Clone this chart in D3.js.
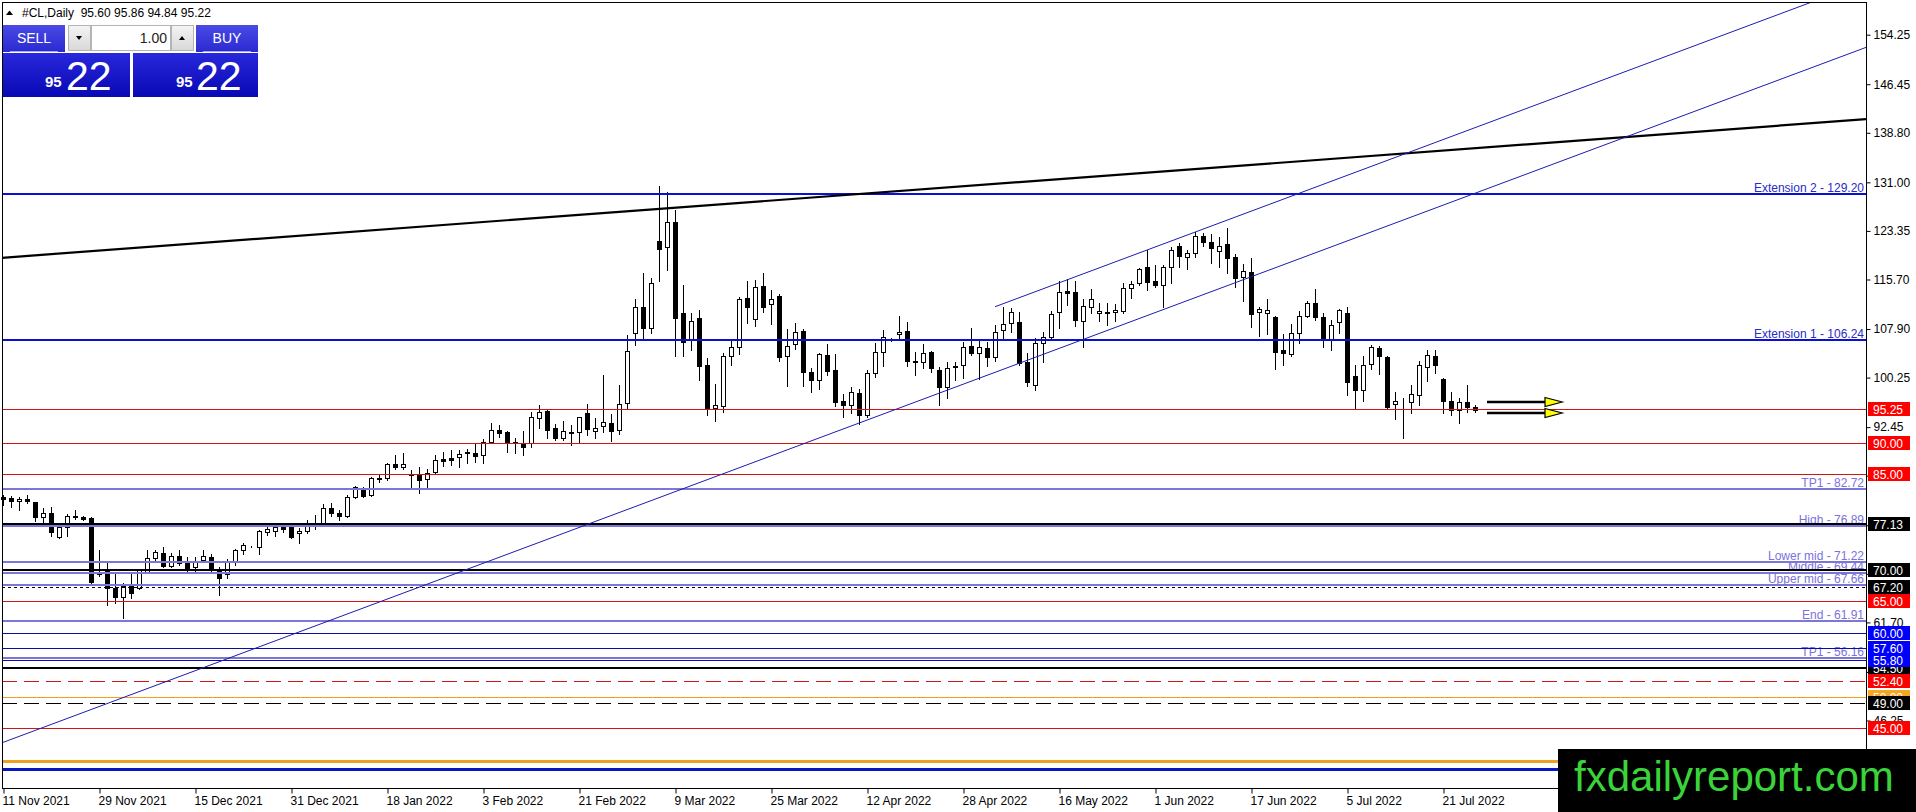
<!DOCTYPE html>
<html>
<head>
<meta charset="utf-8">
<script src="https://cdn.jsdelivr.net/npm/d3@7"></script>
<style>
  body { margin: 0; background: #fff; overflow: hidden; }
  svg text { font-family: "Liberation Sans", Arial, sans-serif; }
</style>
</head>
<body>
<div id="chart"></div>
<script>
// daily bars, 11 Nov 2021 .. 27 Jul 2022 (one per weekday)
const opens = [81.40,81.24,80.82,81.08,80.61,78.35,78.88,75.20,76.67,78.51,78.35,78.09,69.60,69.95,67.17,65.75,67.59,67.07,69.69,71.90,
  72.68,70.58,72.16,71.27,70.37,71.53,72.05,69.95,69.32,71.42,73.10,73.60,73.52,75.99,76.15,76.78,76.78,75.83,76.15,77.04,
  77.30,79.66,78.88,78.46,81.40,82.81,81.76,84.35,84.39,86.65,86.12,85.08,84.92,84.23,85.44,87.43,87.54,87.70,88.33,88.43,
  88.06,90.16,92.00,91.74,90.00,89.90,89.90,93.94,95.04,92.26,90.80,91.60,91.74,94.62,91.84,92.68,93.10,92.00,96.20,107.20,
  111.40,108.00,121.80,120.80,124.70,110.50,106.20,109.60,102.30,95.40,95.80,103.70,105.10,112.80,109.40,114.70,111.80,113.10,103.65,105.50,
  107.60,101.20,99.90,103.75,101.40,96.60,96.00,97.80,94.30,100.90,104.30,106.20,107.10,107.60,102.70,102.66,104.23,101.45,98.80,101.87,
  102.24,105.30,104.20,104.97,103.55,107.75,108.80,109.06,102.76,99.10,105.65,106.70,110.64,113.90,113.70,109.17,111.30,110.50,110.45,110.64,
  110.74,114.30,115.10,117.60,115.50,114.80,117.60,120.97,119.20,119.82,122.55,121.55,120.24,121.30,119.19,116.04,116.93,110.63,110.37,109.74,
  104.60,103.96,107.32,109.95,111.94,109.74,106.17,109.05,110.47,100.50,98.30,102.39,104.86,103.54,96.09,96.50,96.46,97.45,101.97,103.70,
  99.97,96.51,95.14,96.46,95.60];
const highs = [81.76,81.60,81.40,81.76,80.71,79.66,79.92,77.04,78.77,79.40,78.46,78.25,73.10,71.27,69.43,67.85,69.32,70.06,73.10,73.10,
  73.52,72.58,73.10,72.05,72.05,73.10,72.47,70.48,71.63,73.21,74.15,73.80,76.25,76.88,77.30,77.30,76.88,76.51,77.83,78.61,
  80.29,80.56,79.40,81.76,83.18,83.08,84.65,84.90,86.75,88.06,88.33,85.70,86.12,85.81,88.06,88.59,88.85,88.85,88.96,89.90,
  90.53,93.16,92.79,91.90,90.69,91.80,94.90,95.90,95.30,92.90,93.40,92.80,94.10,96.04,93.94,100.66,94.50,99.10,106.96,112.60,
  116.80,116.00,130.50,129.40,126.70,114.90,110.40,110.90,103.30,99.20,104.20,106.20,113.00,115.40,115.60,116.80,114.10,113.40,107.90,108.90,
  107.85,101.70,104.10,105.60,104.00,97.70,98.80,98.40,101.50,105.65,107.70,106.50,109.90,109.06,104.30,105.50,104.50,101.97,102.76,102.76,
  105.90,108.00,106.00,105.90,108.60,111.40,111.20,110.60,104.20,106.50,107.50,110.70,115.40,115.80,115.50,112.70,114.20,111.95,111.95,111.80,
  115.10,115.50,117.50,120.30,117.98,117.98,120.76,121.40,120.34,123.20,122.97,122.86,122.44,123.75,119.71,118.14,119.03,111.30,112.57,110.00,
  107.11,108.69,110.79,112.36,114.15,110.47,109.32,111.10,111.42,102.23,103.65,105.38,105.22,103.65,98.03,96.98,99.08,102.91,104.60,104.60,
  100.20,98.03,96.98,99.08,95.86];
const lows = [80.19,79.82,79.40,80.45,77.72,77.41,75.30,75.05,75.30,77.93,77.83,67.59,69.06,64.44,64.70,62.34,65.49,66.91,69.43,71.53,
  70.48,70.37,70.74,69.53,69.69,71.27,69.69,66.02,68.64,70.74,72.47,73.50,72.47,75.47,75.31,76.00,75.00,74.26,75.73,76.36,
  77.04,78.46,77.83,78.35,81.24,81.40,81.61,83.86,84.13,85.81,85.81,82.97,82.03,83.08,85.18,86.33,86.49,86.23,86.75,87.02,
  86.75,90.16,90.95,88.59,88.43,88.10,89.30,92.26,90.69,90.50,90.40,89.60,90.16,91.20,90.69,91.74,90.20,91.30,95.50,105.40,
  106.40,107.30,115.50,117.20,103.60,103.60,104.60,99.80,94.30,93.40,94.90,102.20,104.00,108.90,108.40,110.60,108.70,102.80,99.00,104.70,
  99.00,98.00,98.50,100.60,95.80,94.00,94.70,92.90,94.00,100.40,102.10,106.00,106.20,102.10,100.66,101.80,101.20,96.00,97.10,99.90,
  100.14,103.80,100.10,102.10,102.90,106.50,107.40,102.30,98.99,98.30,102.76,106.40,108.10,111.70,108.40,105.10,110.40,109.20,108.50,109.20,
  110.50,112.80,114.80,114.04,114.46,111.30,115.20,117.60,117.30,119.30,120.97,118.35,117.60,116.67,114.57,112.36,108.27,106.80,107.10,101.55,
  102.23,103.65,105.64,109.74,109.32,105.12,104.60,107.32,97.50,95.25,96.61,101.55,100.81,95.25,93.67,90.68,94.62,95.93,99.76,100.92,
  94.62,94.36,93.05,94.88,94.84];
const closes = [81.10,80.87,81.08,80.87,78.25,78.88,76.00,76.67,78.46,78.25,78.04,68.01,69.27,67.07,65.75,67.43,66.28,69.95,71.79,72.84,
  70.58,72.16,71.00,70.22,71.27,72.16,69.95,68.64,71.27,73.10,73.89,73.65,76.15,76.36,76.67,76.46,75.20,76.15,76.88,77.30,
  79.66,78.98,78.46,81.40,82.97,81.61,84.39,84.45,86.65,86.23,86.65,84.92,84.13,85.18,87.28,87.17,87.28,88.22,88.59,87.96,
  90.16,92.00,91.58,90.00,90.05,89.30,94.00,94.78,92.00,90.69,91.84,91.65,94.00,92.15,92.26,93.20,91.80,96.10,104.50,111.40,
  108.10,115.10,120.45,124.80,109.70,105.90,109.20,102.10,95.30,95.90,103.60,105.10,112.70,111.40,114.50,111.30,112.70,103.50,105.30,107.50,
  101.20,99.90,103.90,101.30,96.40,96.00,98.00,94.40,101.00,104.30,106.60,106.10,107.50,102.80,102.80,104.08,101.70,98.80,101.70,102.13,
  105.10,104.20,105.10,103.55,107.50,108.64,110.64,102.50,99.50,105.65,106.70,110.20,113.80,113.50,109.30,111.60,112.70,110.75,110.55,110.90,
  114.30,115.00,117.30,115.35,114.80,117.60,120.40,119.45,119.82,122.55,121.55,120.60,121.02,119.03,115.88,117.10,110.26,111.05,110.90,104.33,
  104.07,107.22,109.95,111.94,109.74,106.17,108.53,110.89,99.61,98.30,102.23,105.01,103.65,95.67,96.51,96.60,97.66,102.23,103.81,102.23,
  96.61,95.14,96.46,95.56,95.22];

// time axis labels (bar number of each label)
const dateTickBars = [0, 12, 24, 36, 48, 60, 72, 84, 96, 108, 120, 132, 144, 156, 168, 180];
const dateTickLabels = ["11 Nov 2021", "29 Nov 2021", "15 Dec 2021", "31 Dec 2021", "18 Jan 2022", "3 Feb 2022",
  "21 Feb 2022", "9 Mar 2022", "25 Mar 2022", "12 Apr 2022", "28 Apr 2022", "16 May 2022", "1 Jun 2022",
  "17 Jun 2022", "5 Jul 2022", "21 Jul 2022"];

// price axis
const priceTicks = [154.25, 146.45, 138.80, 131.00, 123.35, 115.70, 107.90, 100.25, 92.45, 84.80, 77.00, 69.35, 61.70, 53.90, 46.25];
const priceMin = 35.62, priceMax = 159.40;

// horizontal levels
const extensionPrices = [129.20, 106.24];
const extensionNames = ["Extension 2", "Extension 1"];
const fiboPrices = [82.72, 76.89, 71.22, 69.44, 67.66, 61.91, 56.16];
const fiboNames = ["TP1", "High", "Lower mid", "Middle", "Upper mid", "End", "TP1"];
const redLevels = [95.25, 90.00, 85.00, 65.00, 45.00];
const blackLevels = [77.13, 70.00, 54.50];
const blueLevels = [60.00, 57.60, 55.80];
const dottedLevels = [67.20];
const redDashedLevels = [52.40];
const blackDashedLevels = [49.00];
const orangeLevels = [50.00];
const bottomOrangeLevels = [39.86];
const bottomBlueLevels = [38.60];

// trend lines: [bar, price] anchors
const resistanceLine = [[0, 119.13], [184, 136.37]];
const channelLow = [[0, 42.80], [150, 113.30]];
const channelHigh = [[124, 111.41], [184, 139.61]];

// arrows after the last bar
const arrowPrices = [96.45, 94.72];
const arrowBars = [185.5, 192.75, 194.9];

const symbolTitle = "#CL,Daily";
const lotSize = "1.00";
const bidBig = "95", bidSmall = "22";

let svg, xScale, yScale;
const width = 1916, height = 812;
const plot = { left: 2, top: 2, right: 1866, bottom: 788 };

function defineSVG() {
    svg = d3.select("#chart").append("svg")
        .attr("width", width)
        .attr("height", height)
        .style("display", "block");

    svg.append("rect")
        .attr("width", width)
        .attr("height", height)
        .attr("fill", "#fff");

    svg.append("clipPath")
        .attr("id", "plotclip")
        .append("rect")
        .attr("x", plot.left)
        .attr("y", plot.top)
        .attr("width", plot.right - plot.left)
        .attr("height", plot.bottom - plot.top);
}

function setScales() {
    xScale = d3.scaleLinear()
        .domain([0, closes.length - 1])
        .range([3, 3 + 8 * (closes.length - 1)]);
    yScale = d3.scaleLinear()
        .domain([priceMin, priceMax])
        .range([plot.bottom, plot.top]);
}

function snap(v, w) {
    return w % 2 === 1 ? Math.round(v) + 0.5 : Math.round(v);
}

function drawCandles() {
    const g = svg.append("g").attr("id", "g_candles").attr("shape-rendering", "crispEdges");
    const bars = g.selectAll("g").data(d3.range(closes.length)).join("g");

    bars.append("line")
        .attr("x1", i => Math.round(xScale(i)) + 0.5)
        .attr("x2", i => Math.round(xScale(i)) + 0.5)
        .attr("y1", i => Math.round(yScale(highs[i])))
        .attr("y2", i => Math.round(yScale(lows[i])) + 1)
        .attr("stroke", "#000");

    bars.append("rect")
        .attr("x", i => Math.round(xScale(i)) - 1.5)
        .attr("y", i => Math.round(yScale(Math.max(opens[i], closes[i]))) + 0.5)
        .attr("width", 4)
        .attr("height", i => Math.max(0, Math.round(yScale(Math.min(opens[i], closes[i]))) - Math.round(yScale(Math.max(opens[i], closes[i])))))
        .attr("fill", i => closes[i] >= opens[i] ? "#fff" : "#000")
        .attr("stroke", "#000");
}

function drawLevel(g, price, color, w, dash) {
    const y = snap(yScale(price), w);
    g.append("line")
        .attr("x1", plot.left)
        .attr("x2", plot.right)
        .attr("y1", y)
        .attr("y2", y)
        .attr("stroke", color)
        .attr("stroke-width", w)
        .attr("stroke-dasharray", dash || null);
}

function drawLevels() {
    const g = svg.append("g").attr("id", "g_levels").attr("shape-rendering", "crispEdges");

    // level captions, right aligned, sitting on their line
    extensionPrices.forEach((p, i) => {
        g.append("text")
            .attr("x", plot.right - 2)
            .attr("y", Math.round(yScale(p)) - 2)
            .attr("text-anchor", "end")
            .attr("font-size", 12)
            .attr("fill", "#2a2ac8")
            .text(extensionNames[i] + " - " + p.toFixed(2));
    });
    fiboPrices.forEach((p, i) => {
        g.append("text")
            .attr("x", plot.right - 2)
            .attr("y", Math.round(yScale(p)) - 2)
            .attr("text-anchor", "end")
            .attr("font-size", 12)
            .attr("fill", "#7a72dc")
            .text(fiboNames[i] + " - " + p.toFixed(2));
    });

    bottomOrangeLevels.forEach(p => drawLevel(g, p, "#f0a020", 3));
    bottomBlueLevels.forEach(p => drawLevel(g, p, "#0a14c0", 3));
    redLevels.forEach(p => drawLevel(g, p, "#d41414", 1));
    blueLevels.forEach(p => drawLevel(g, p, "#0a0aa8", 1));
    orangeLevels.forEach(p => drawLevel(g, p, "#f0a020", 1));
    redDashedLevels.forEach(p => drawLevel(g, p, "#d41414", 1, "15,7"));
    blackDashedLevels.forEach(p => drawLevel(g, p, "#000", 1, "15,7"));
    dottedLevels.forEach(p => drawLevel(g, p, "#000", 1, "3,3"));
    fiboPrices.forEach(p => drawLevel(g, p, "#7c76d8", 2));
    extensionPrices.forEach(p => drawLevel(g, p, "#0a10d4", 2));
    blackLevels.forEach(p => drawLevel(g, p, "#000", 2));
}

function lineAt(anchors, bar) {
    const [b0, p0] = anchors[0], [b1, p1] = anchors[1];
    return p0 + (p1 - p0) * (bar - b0) / (b1 - b0);
}

function drawTrendLines() {
    const g = svg.append("g").attr("id", "g_trends").attr("clip-path", "url(#plotclip)");
    const leftBar = xScale.invert(plot.left), rightBar = xScale.invert(plot.right);

    const lines = [
        { anchors: resistanceLine, from: leftBar, color: "#000", w: 2.2 },
        { anchors: channelLow, from: leftBar, color: "#1c1cb0", w: 1 },
        { anchors: channelHigh, from: channelHigh[0][0], color: "#1c1cb0", w: 1 }
    ];

    g.selectAll("line").data(lines).join("line")
        .attr("x1", d => xScale(d.from))
        .attr("y1", d => yScale(lineAt(d.anchors, d.from)))
        .attr("x2", xScale(rightBar))
        .attr("y2", d => yScale(lineAt(d.anchors, rightBar)))
        .attr("stroke", d => d.color)
        .attr("stroke-width", d => d.w);
}

function drawArrows() {
    const g = svg.append("g").attr("id", "g_arrows");
    arrowPrices.forEach(p => {
        const y = Math.round(yScale(p));
        const x0 = xScale(arrowBars[0]), x1 = xScale(arrowBars[1]), x2 = xScale(arrowBars[2]);
        g.append("line")
            .attr("x1", x0).attr("x2", x1)
            .attr("y1", y).attr("y2", y)
            .attr("stroke", "#000")
            .attr("stroke-width", 2.5);
        g.append("path")
            .attr("d", `M${x1},${y - 4.5}L${x2},${y}L${x1},${y + 4.5}Z`)
            .attr("fill", "#ffff00")
            .attr("stroke", "#000")
            .attr("stroke-width", 1.2);
    });
}

// all prices that get a coloured box on the price scale
function markPrices() {
    return [].concat(orangeLevels, blackLevels, redLevels, redDashedLevels, dottedLevels, blueLevels, blackDashedLevels);
}

function drawAxes() {
    // frame
    svg.append("rect")
        .attr("x", plot.left + 0.5)
        .attr("y", plot.top + 0.5)
        .attr("width", plot.right - plot.left)
        .attr("height", plot.bottom - plot.top)
        .attr("fill", "none")
        .attr("stroke", "#000")
        .attr("shape-rendering", "crispEdges");

    const yAxis = svg.append("g")
        .attr("class", "yaxis")
        .attr("transform", `translate(${plot.right + 0.5},0)`)
        .call(d3.axisRight(yScale).tickValues(priceTicks).tickSize(4).tickPadding(3).tickFormat(d3.format(".2f")));
    yAxis.select(".domain").remove();
    yAxis.selectAll("text").attr("font-size", 12).attr("fill", "#000").style("font-family", "Liberation Sans, Arial, sans-serif");
    yAxis.selectAll("line").attr("stroke", "#000");

    // tick labels that sit right under a price box are covered by it
    const covered = markPrices().map(p => yScale(p));
    yAxis.selectAll(".tick text")
        .filter(d => covered.some(y => Math.abs(y - yScale(d)) < 6))
        .remove();

    const xAxis = svg.append("g")
        .attr("class", "xaxis")
        .attr("transform", `translate(0,${plot.bottom + 0.5})`)
        .call(d3.axisBottom(xScale).tickValues(dateTickBars).tickSize(5).tickFormat((d, i) => dateTickLabels[i]));
    xAxis.select(".domain").remove();
    xAxis.selectAll(".tick line").attr("transform", "translate(0.5,0)").attr("stroke", "#000");
    xAxis.selectAll("text")
        .attr("text-anchor", "start")
        .attr("x", -1)
        .attr("font-size", 12)
        .attr("fill", "#000")
        .style("font-family", "Liberation Sans, Arial, sans-serif");
}

function drawPriceMarks() {
    const g = svg.append("g").attr("id", "g_marks");
    const marks = [];
    orangeLevels.forEach(p => marks.push([p, "#f5a623"]));
    blackLevels.forEach(p => marks.push([p, "#000"]));
    redLevels.forEach(p => marks.push([p, "#ff0000"]));
    redDashedLevels.forEach(p => marks.push([p, "#ff0000"]));
    dottedLevels.forEach(p => marks.push([p, "#000"]));
    blueLevels.forEach(p => marks.push([p, "#0000ff"]));
    blackDashedLevels.forEach(p => marks.push([p, "#000"]));

    const m = g.selectAll("g").data(marks).join("g")
        .attr("transform", d => `translate(${plot.right + 2},${Math.round(yScale(d[0]))})`);
    m.append("rect")
        .attr("x", 0).attr("y", -7)
        .attr("width", 42).attr("height", 14)
        .attr("fill", d => d[1]);
    m.append("text")
        .attr("x", 5).attr("y", 4.5)
        .attr("font-size", 12)
        .attr("fill", "#fff")
        .text(d => d[0].toFixed(2));
}

function drawHeader() {
    const g = svg.append("g").attr("id", "g_header");
    g.append("path").attr("d", "M6,15L9.5,10.5L13,15Z").attr("fill", "#000");
    g.append("text")
        .attr("x", 22).attr("y", 17)
        .attr("font-size", 12)
        .attr("fill", "#000")
        .attr("xml:space", "preserve")
        .text(symbolTitle + "  " + [opens, highs, lows, closes].map(a => a[a.length - 1].toFixed(2)).join(" "));

    const defs = svg.append("defs");
    const gradTop = defs.append("linearGradient").attr("id", "btnTop").attr("x1", 0).attr("y1", 0).attr("x2", 0).attr("y2", 1);
    gradTop.append("stop").attr("offset", "0%").attr("stop-color", "#4a4ae4");
    gradTop.append("stop").attr("offset", "100%").attr("stop-color", "#2a2ad2");
    const gradLow = defs.append("linearGradient").attr("id", "btnLow").attr("x1", 0).attr("y1", 0).attr("x2", 0).attr("y2", 1);
    gradLow.append("stop").attr("offset", "0%").attr("stop-color", "#2828dc");
    gradLow.append("stop").attr("offset", "100%").attr("stop-color", "#0808b4");
    const gradGrey = defs.append("linearGradient").attr("id", "btnGrey").attr("x1", 0).attr("y1", 0).attr("x2", 0).attr("y2", 1);
    gradGrey.append("stop").attr("offset", "0%").attr("stop-color", "#f4f4f4");
    gradGrey.append("stop").attr("offset", "100%").attr("stop-color", "#d8d8d8");

    // sell / buy buttons
    [[3, "SELL"], [196, "BUY"]].forEach(([x, label]) => {
        g.append("rect").attr("x", x).attr("y", 25).attr("width", 62).attr("height", 27).attr("fill", "url(#btnTop)");
        g.append("line").attr("x1", x + 7).attr("x2", x + 55).attr("y1", 51.5).attr("y2", 51.5)
            .attr("stroke", "#a8a8f4").attr("shape-rendering", "crispEdges");
        g.append("text").attr("x", x + 31).attr("y", 43).attr("text-anchor", "middle")
            .attr("font-size", 14).attr("fill", "#fff").text(label);
    });

    // lot spinner
    g.append("rect").attr("x", 68.5).attr("y", 25.5).attr("width", 22).attr("height", 25)
        .attr("fill", "url(#btnGrey)").attr("stroke", "#b4b4b4");
    g.append("path").attr("d", "M76,36L82,36L79,40Z").attr("fill", "#000");
    g.append("rect").attr("x", 91.5).attr("y", 25.5).attr("width", 79).attr("height", 25)
        .attr("fill", "#fff").attr("stroke", "#b4b4b4");
    g.append("text").attr("x", 167).attr("y", 43).attr("text-anchor", "end")
        .attr("font-size", 14).attr("fill", "#222").text(lotSize);
    g.append("rect").attr("x", 171.5).attr("y", 25.5).attr("width", 22).attr("height", 25)
        .attr("fill", "url(#btnGrey)").attr("stroke", "#b4b4b4");
    g.append("path").attr("d", "M179,40L185,40L182,36Z").attr("fill", "#000");

    // price boxes
    [[3, 127, 45, 66], [133, 125, 176, 196]].forEach(([x, w, xs, xb]) => {
        g.append("rect").attr("x", x).attr("y", 53).attr("width", w).attr("height", 44).attr("fill", "url(#btnLow)");
        g.append("text").attr("x", xs).attr("y", 87).attr("font-size", 15).attr("font-weight", "bold")
            .attr("fill", "#fff").text(bidBig);
        g.append("text").attr("x", xb).attr("y", 90).attr("font-size", 41)
            .attr("fill", "#fff").text(bidSmall);
    });
}

function drawWatermark() {
    const g = svg.append("g").attr("id", "g_watermark");
    g.append("rect").attr("x", 1558).attr("y", 749).attr("width", 358).attr("height", 63).attr("fill", "#000");
    g.append("text").attr("x", 1574).attr("y", 791)
        .attr("font-size", 42)
        .attr("fill", "#3ad43a")
        .text("fxdailyreport.com");
}

defineSVG();
setScales();
drawCandles();
drawLevels();
drawTrendLines();
drawArrows();
drawAxes();
drawPriceMarks();
drawHeader();
drawWatermark();
</script>
</body>
</html>
